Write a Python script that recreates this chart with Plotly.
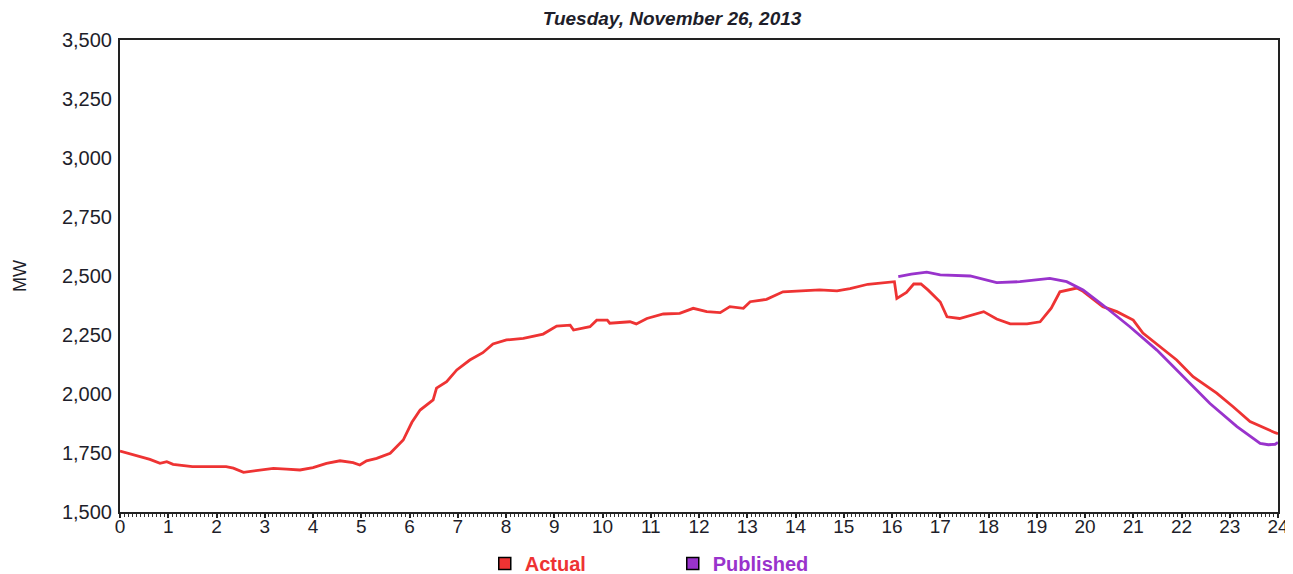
import plotly.graph_objects as go

# ---- data ----
actual_hours = [0, 0.3, 0.62, 0.83, 0.97, 1.1, 1.5, 2.2, 2.35, 2.56, 2.83, 3.18, 3.45, 3.73, 4.0,
                4.28, 4.56, 4.83, 4.97, 5.11, 5.32, 5.6, 5.87, 6.05, 6.22, 6.49, 6.56, 6.77, 6.98,
                7.25, 7.52, 7.73, 8.01, 8.36, 8.77, 9.05, 9.33, 9.4, 9.74, 9.88, 10.1, 10.15, 10.57,
                10.7, 10.92, 11.26, 11.6, 11.88, 12.16, 12.44, 12.64, 12.92, 13.06, 13.4, 13.74,
                14.16, 14.5, 14.86, 15.13, 15.5, 16.0, 16.05, 16.1, 16.3, 16.45, 16.6, 16.75, 17.0,
                17.14, 17.4, 17.9, 18.17, 18.45, 18.8, 19.07, 19.3, 19.48, 19.83, 19.96, 20.37,
                20.66, 21.0, 21.2, 21.55, 21.9, 22.24, 22.73, 23.07, 23.42, 23.94, 24]
actual_mw = [1758, 1740, 1723, 1706, 1713, 1702, 1692, 1692, 1686, 1668, 1675, 1685, 1682, 1678, 1688,
             1706, 1717, 1709, 1699, 1717, 1727, 1749, 1805, 1880, 1932, 1975, 2025, 2052, 2102,
             2144, 2175, 2212, 2229, 2236, 2254, 2288, 2292, 2271, 2285, 2313, 2313, 2300, 2306,
             2297, 2320, 2339, 2342, 2363, 2349, 2345, 2370, 2363, 2391, 2401, 2433,
             2437, 2441, 2437, 2447, 2465, 2476, 2476, 2405, 2430, 2466, 2466, 2440, 2390,
             2327, 2320, 2349, 2318, 2297, 2297, 2306, 2364, 2433, 2449, 2435, 2370,
             2349, 2313, 2258, 2200, 2144, 2073, 2004, 1946, 1883, 1836, 1832]

published_hours = [16.13, 16.4, 16.72, 17.0, 17.62, 18.17, 18.65, 19.27, 19.62, 19.96, 20.37, 20.93,
                   21.49, 22.03, 22.59, 23.15, 23.63, 23.8, 23.94, 24]
published_mw = [2497, 2508, 2516, 2505, 2500, 2472, 2476, 2490, 2476, 2441, 2377, 2285,
                2186, 2073, 1960, 1862, 1791, 1785, 1787, 1795]

x_ticks = list(range(0, 25))
y_ticks = [1500, 1750, 2000, 2250, 2500, 2750, 3000, 3250, 3500]

RED = "#EE3333"
PURPLE = "#9933CC"
FONT = "Liberation Sans, Arial, sans-serif"
TXT = "#1e1e2a"

fig = go.Figure()
fig.add_trace(go.Scatter(x=actual_hours, y=actual_mw, mode="lines",
                         line=dict(color=RED, width=2.8), showlegend=False))
fig.add_trace(go.Scatter(x=published_hours, y=published_mw, mode="lines",
                         line=dict(color=PURPLE, width=2.8), showlegend=False))
# legend entries
fig.add_trace(go.Scatter(x=[None], y=[None], mode="markers",
                         marker=dict(symbol="square", size=12, color=RED,
                                     line=dict(color="black", width=1.5)),
                         name=f"<b><span style='color:{RED}'>Actual</span></b>"))
fig.add_trace(go.Scatter(x=[None], y=[None], mode="markers",
                         marker=dict(symbol="square", size=12, color=PURPLE,
                                     line=dict(color="black", width=1.5)),
                         name=f"<b><span style='color:{PURPLE}'>Published</span></b>"))

# page has an 8px body margin, so the figure is sized to fit the window
fig.update_layout(
    width=1285, height=566,
    margin=dict(l=112, r=15, t=32, b=62, autoexpand=False),
    paper_bgcolor="white", plot_bgcolor="white",
    font=dict(family=FONT, size=20, color=TXT),
    title=dict(text="<b><i>Tuesday, November 26, 2013</i></b>", x=0.4767, xref="paper",
               xanchor="center", y=0.993, yanchor="top", pad=dict(t=0, b=0),
               font=dict(family=FONT, size=19, color=TXT)),
    legend=dict(orientation="h", x=0.315, xanchor="left", y=-0.068, yanchor="top",
                font=dict(family=FONT, size=20), itemwidth=30, entrywidth=143,
                bgcolor="rgba(0,0,0,0)"),
    xaxis=dict(range=[0, 24], tickvals=x_ticks, ticktext=[str(v) for v in x_ticks],
               showgrid=False, zeroline=False, showline=True, linecolor="#222222",
               linewidth=2, mirror=True, ticks="outside", ticklen=4, tickwidth=1.5,
               tickcolor="#222222", ticklabelstandoff=-8,
               minor=dict(dtick=1/12, ticks="outside", ticklen=3, tickwidth=1,
                          tickcolor="#333333", showgrid=False),
               tickfont=dict(size=19)),
    yaxis=dict(range=[1500, 3500], tickvals=y_ticks, tickformat=",",
               showgrid=False, zeroline=False, showline=True, linecolor="#222222",
               linewidth=2, mirror=True, ticks="", ticklen=0, ticklabelstandoff=2,
               title=dict(text="MW", font=dict(size=18), standoff=31),
               tickfont=dict(size=20)),
)

fig.write_html("out.html")
